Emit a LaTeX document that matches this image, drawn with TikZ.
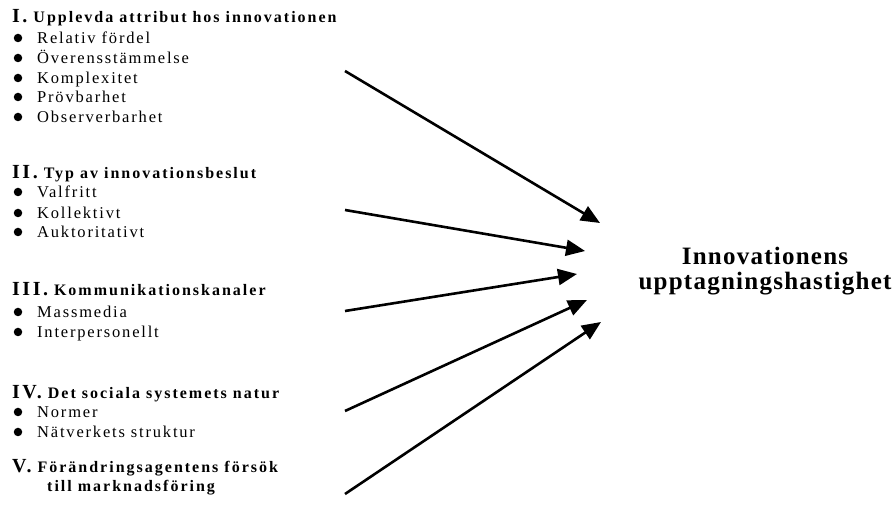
\documentclass[tikz,border=0pt]{standalone}
\usepackage{fontspec}
\setmainfont{Liberation Serif}
\newfontfamily\lsfont[LetterSpace=11]{Liberation Serif}
\newfontfamily\hdfont[LetterSpace=12.5]{Liberation Serif}
\newfontfamily\tgfont[LetterSpace=5]{Liberation Serif}
\usetikzlibrary{arrows.meta}
\begin{document}
\begin{tikzpicture}[x=1pt,y=-1pt,
  head/.style={anchor=base west, inner sep=0pt, font=\hdfont\fontsize{16}{18}\selectfont\bfseries},
  item/.style={anchor=base west, inner sep=0pt, font=\lsfont\fontsize{16.5}{18}\selectfont},
  dot/.style={circle, fill=black, inner sep=0pt, minimum size=8.5pt},
  arr/.style={line width=2.6pt, -{Triangle[length=19pt,width=16pt]}},
  target/.style={anchor=base, inner sep=0pt, font=\tgfont\fontsize{25}{25}\selectfont\bfseries}]
\newcommand{\numf}[1]{{\fontsize{20}{22}\selectfont\bfseries #1}}
\useasboundingbox (0,0) rectangle (895,518);
% Section I
\node[head] (h1) at (12,23) {\numf{I.} Upplevda attribut hos innovationen};
\node[dot] (d11) at (18,38) {};
\node[item] (i11) at (37,44) {Relativ fördel};
\node[dot] (d12) at (18,58) {};
\node[item] (i12) at (37,64) {Överensstämmelse};
\node[dot] (d13) at (18,78) {};
\node[item] (i13) at (37,84) {Komplexitet};
\node[dot] (d14) at (18,97) {};
\node[item] (i14) at (37,103) {Prövbarhet};
\node[dot] (d15) at (18,117) {};
\node[item] (i15) at (37,123) {Observerbarhet};
% Section II
\node[head] (h2) at (12,179) {\numf{II.} Typ av innovationsbeslut};
\node[dot] (d21) at (18,192) {};
\node[item] (i21) at (37,198) {Valfritt};
\node[dot] (d22) at (18,213) {};
\node[item] (i22) at (37,219) {Kollektivt};
\node[dot] (d23) at (18,232) {};
\node[item] (i23) at (37,238) {Auktoritativt};
% Section III
\node[head] (h3) at (12,296) {\numf{III.} Kommunikationskanaler};
\node[dot] (d31) at (18,312) {};
\node[item] (i31) at (37,318) {Massmedia};
\node[dot] (d32) at (18,332) {};
\node[item] (i32) at (37,338) {Interpersonellt};
% Section IV
\node[head] (h4) at (12,399) {\numf{IV.} Det sociala systemets natur};
\node[dot] (d41) at (18,412) {};
\node[item] (i41) at (37,418) {Normer};
\node[dot] (d42) at (18,432) {};
\node[item] (i42) at (37,438) {Nätverkets struktur};
% Section V
\node[head] (h5) at (12,473) {\numf{V.} Förändringsagentens försök};
\node[head] (h5b) at (47,492) {till marknadsföring};
% Target
\node[target] (tg1) at (765,265) {Innovationens};
\node[target] (tg2) at (765,290) {upptagningshastighet};
% Arrow ends
\coordinate (s1) at (345,71);  \coordinate (t1) at (600,223);
\coordinate (s2) at (345,210); \coordinate (t2) at (585,251);
\coordinate (s3) at (345,311); \coordinate (t3) at (577,274);
\coordinate (s4) at (345,411); \coordinate (t4) at (587,300);
\coordinate (s5) at (345,494); \coordinate (t5) at (601,322);
\draw[arr] (s1) -- (t1);
\draw[arr] (s2) -- (t2);
\draw[arr] (s3) -- (t3);
\draw[arr] (s4) -- (t4);
\draw[arr] (s5) -- (t5);
\end{tikzpicture}
\end{document}
